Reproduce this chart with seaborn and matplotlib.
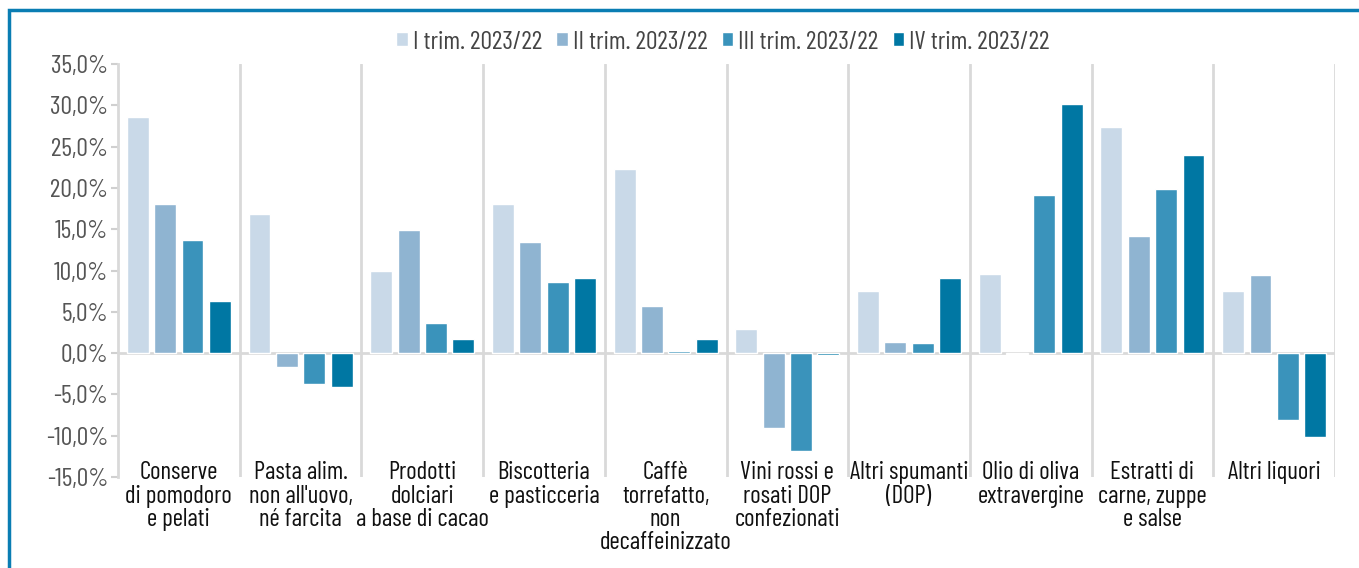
import pandas as pd
import matplotlib.pyplot as plt
import seaborn as sns
from matplotlib import font_manager
from matplotlib.ticker import FuncFormatter
from matplotlib.patches import Rectangle

# Data
categories = ["Conserve\ndi pomodoro\ne pelati",
              "Pasta alim.\nnon all'uovo,\nné farcita",
              "Prodotti\ndolciari\na base di cacao",
              "Biscotteria\ne pasticceria",
              "Caffè\ntorrefatto,\nnon\ndecaffeinizzato",
              "Vini rossi e\nrosati DOP\nconfezionati",
              "Altri spumanti\n(DOP)",
              "Olio di oliva\nextravergine",
              "Estratti di\ncarne, zuppe\ne salse",
              "Altri liquori"]
series = ["I trim. 2023/22", "II trim. 2023/22", "III trim. 2023/22", "IV trim. 2023/22"]
q1 = [28.6, 16.8, 10.0, 18.0, 22.3, 2.9, 7.5, 9.6, 27.4, 7.5]
q2 = [18.0, -1.7, 14.9, 13.4, 5.7, -9.1, 1.4, -0.1, 14.2, 9.4]
q3 = [13.7, -3.8, 3.6, 8.6, 0.2, -11.8, 1.2, 19.2, 19.9, -8.1]
q4 = [6.3, -4.1, 1.7, 9.1, 1.7, -0.2, 9.1, 30.2, 24.0, -10.1]
colors = ["#c9d9e8", "#8fb4d1", "#3a93bb", "#0077a3"]

rows = []
for s, vals in zip(series, [q1, q2, q3, q4]):
    for c, v in zip(categories, vals):
        rows.append({"Categoria": c, "Trimestre": s, "Valore": v})
df = pd.DataFrame(rows)

sns.set_style("white")

# pick a condensed font if one is installed
available = {f.name for f in font_manager.fontManager.ttflist}
font = "DejaVu Sans"
for cand in ["Barlow Condensed", "Roboto Condensed", "Archivo Narrow",
             "PT Sans Narrow", "Liberation Sans Narrow"]:
    if cand in available:
        font = cand
        break
plt.rcParams["font.family"] = [font, "DejaVu Sans"]

fig = plt.figure(figsize=(13.59, 5.68), dpi=100)
ax = fig.add_axes([118 / 1359, 1 - 477 / 568, (1335 - 118) / 1359, (477 - 64) / 568])

sns.barplot(data=df, x="Categoria", y="Valore", hue="Trimestre", palette=colors,
            saturation=1, width=0.9, gap=0.2, ax=ax, legend=True)

ax.set_xlim(-0.5, len(categories) - 0.5)
ax.set_ylim(-15, 35)
ax.set_yticks(range(-15, 36, 5))
ax.yaxis.set_major_formatter(FuncFormatter(lambda v, p: f"{v:.1f}%".replace(".", ",")))
ax.tick_params(axis="y", labelsize=18.5, labelcolor="#555555", color="#d0d0d0",
               length=5, width=1.5, left=True, pad=2)
ax.set_xticks([])
ax.set_xlabel("")
ax.set_ylabel("")

for side in ["top", "right", "bottom"]:
    ax.spines[side].set_visible(False)
ax.spines["left"].set_color("#d9d9d9")
ax.spines["left"].set_linewidth(2)

# separators and zero line
for i in range(len(categories)):
    ax.axvline(i + 0.5, color="#d9d9d9", lw=2, zorder=0)
ax.axhline(0, color="#d9d9d9", lw=2, zorder=0.5)

# category labels inside the plot
for i, c in enumerate(categories):
    ax.text(i, -13.1, c, ha="center", va="top", fontsize=18, color="#111111",
            linespacing=1.02, clip_on=False)

handles, labels = ax.get_legend_handles_labels()
ax.get_legend().remove()
fig.legend(handles, labels, loc="center", bbox_to_anchor=(0.532, 0.926), ncol=4,
           frameon=False, fontsize=18.5, handlelength=0.45, handleheight=0.45,
           handletextpad=0.2, columnspacing=0.55, labelcolor="#444444")

# outer border
fig.patches.append(Rectangle((9 / 1359, -0.05), 1.0, 1 - 10 / 568 + 0.05,
                             transform=fig.transFigure, fill=False,
                             edgecolor="#0a7db3", lw=2.5))

plt.savefig("out.png", dpi=100)
